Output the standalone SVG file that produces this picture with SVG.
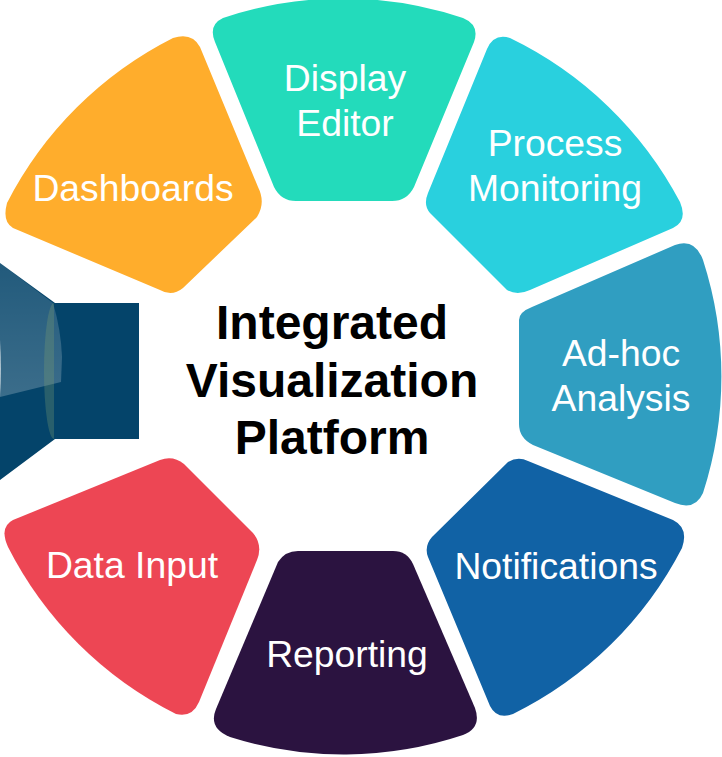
<svg xmlns="http://www.w3.org/2000/svg" width="722" height="757" viewBox="0 0 722 757">
<style>
.l{font-family:"Liberation Sans",Arial,sans-serif;font-size:37.3px;fill:#fff;text-anchor:middle}
.t{font-family:"Liberation Sans",Arial,sans-serif;font-size:48px;font-weight:bold;fill:#000;text-anchor:middle}
</style>
<defs>
<linearGradient id="sheen" x1="0" y1="0" x2="0" y2="1"><stop offset="0" stop-color="#fff" stop-opacity=".12"/><stop offset="1" stop-color="#fff" stop-opacity=".22"/></linearGradient>
</defs>
<rect width="722" height="757" fill="#fff"/>
<g id="hub">
<path d="M0,263 L55,303 H139 V439 H55 L0,480 Z" fill="#04446a"/>
<path d="M0,263 L53,303 Q61,330 62,357 L61,382 L0,397 Z" fill="url(#sheen)"/>
<path d="M54,303 A10 68 0 0 0 54,439 Z" fill="#7f9f6f" fill-opacity=".3"/>
<path d="M0,340 Q2,370 0,397 Z" fill="#fff" fill-opacity=".6"/>
</g>
<g id="display-editor">
<path d="M223,18 A378 378 0 0 1 463,18 Q480,25 474,42 L414,187 Q407,201 392,201 H296 Q281,201 274,187 L215,42 Q208,25 223,18 Z" fill="#23dbbb"/>
<text class="l" x="345" y="91">Display</text><text class="l" x="345" y="136">Editor</text>
</g>
<g id="process-monitoring">
<path d="M428,193 L487,49 Q494,33 510,38 A378 378 0 0 1 680,202 Q688,221 673,228 L530,290 Q517,296 507,290 L430,213 Q423,205 428,193 Z" fill="#29d0de"/>
<text class="l" x="555" y="156">Process</text><text class="l" x="555" y="201">Monitoring</text>
</g>
<g id="adhoc-analysis">
<path d="M532,307 L675,245 Q695,238 703,260 A378 378 0 0 1 703,493 Q695,511 675,503 L533,445 Q519,438 519,424 V320 Q519,312 532,307 Z" fill="#309ec1"/>
<text class="l" x="621" y="366">Ad-hoc</text><text class="l" x="621" y="411">Analysis</text>
</g>
<g id="notifications">
<path d="M432,537 L508,462 Q518,456 528,461 L673,520 Q689,528 682,548 A378 378 0 0 1 513,714 Q497,720 490,706 L428,557 Q424,546 432,537 Z" fill="#1162a5"/>
<text class="l" x="556" y="579">Notifications</text>
</g>
<g id="reporting">
<path d="M278,562 Q285,551 298,551 H393 Q407,551 413,564 L475,708 Q482,728 463,735 A378 378 0 0 1 230,737 Q208,728 216,709 Z" fill="#2b1340"/>
<text class="l" x="347" y="667">Reporting</text>
</g>
<g id="data-input">
<path d="M13,520 L160,460 Q173,455 184,464 L253,533 Q263,545 257,560 L199,702 Q192,718 176,714 A378 378 0 0 1 8,547 Q-1,527 13,520 Z" fill="#ed4654"/>
<text class="l" x="132" y="578">Data Input</text>
</g>
<g id="dashboards">
<path d="M200,47 L258,187 Q266,203 257,217 L183,288 Q172,297 160,290 L13,228 Q2,222 7,203 A378 378 0 0 1 173,38 Q192,32 200,47 Z" fill="#ffad2c"/>
<text class="l" x="133" y="201">Dashboards</text>
</g>
<g id="title">
<text class="t" x="332" y="339">Integrated</text>
<text class="t" x="332" y="397">Visualization</text>
<text class="t" x="332" y="454">Platform</text>
</g>
</svg>
